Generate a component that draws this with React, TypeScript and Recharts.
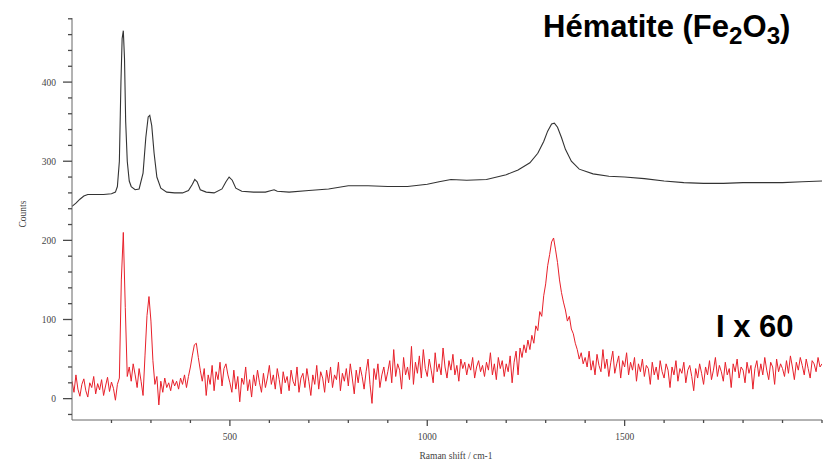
import { Line, LineChart, XAxis, YAxis } from "recharts";

// Raman spectrum of hematite: raw trace (black) and the x60 trace (red)
const blackShift = [
  100, 110, 120, 130, 140, 160, 180, 200, 210, 215, 220, 224, 227, 230, 233,
  236, 240, 245, 250, 260, 270, 280, 287, 293, 297, 302, 308, 315, 325, 340,
  360, 380, 395, 405, 411, 417, 425, 440, 460, 480, 490, 498, 506, 515, 530,
  560, 590, 605, 612, 620, 650, 700, 750, 800, 850, 900, 950, 1000, 1030,
  1060, 1100, 1150, 1200, 1230, 1260, 1280, 1295, 1305, 1315, 1322, 1330,
  1340, 1350, 1365, 1385, 1420, 1460, 1500, 1550, 1600, 1650, 1700, 1750,
  1800, 1850, 1900, 1950, 2000,
];
const blackCounts = [
  243, 247, 252, 256, 258, 258, 258, 259, 261, 268, 300, 400, 455, 465, 430,
  350, 300, 275, 268, 264, 265, 285, 330, 356, 358, 345, 310, 280, 266, 261,
  260, 260, 263, 271, 277, 274, 264, 261, 260, 265, 274, 280, 276, 266, 262,
  261, 261, 263, 264, 262, 261, 263, 265, 269, 269, 268, 268, 271, 274,
  277, 276, 277, 283, 289, 298, 310, 325, 338, 347, 348, 343,
  330, 315, 300, 290, 284, 281, 280, 278, 275, 273, 272, 272,
  273, 273, 273, 274, 275,
];

const redShift = [
  100, 105, 110, 115, 120, 125, 130, 135, 140, 145,
  150, 155, 160, 165, 170, 175, 180, 185, 190, 195,
  200, 205, 210, 215, 220, 225, 230, 235, 240, 245,
  250, 255, 260, 265, 270, 275, 280, 285, 290, 295,
  300, 305, 310, 315, 320, 325, 330, 335, 340, 345,
  350, 355, 360, 365, 370, 375, 380, 385, 390, 395,
  400, 405, 410, 415, 420, 425, 430, 435, 440, 445,
  450, 455, 460, 465, 470, 475, 480, 485, 490, 495,
  500, 505, 510, 515, 520, 525, 530, 535, 540, 545,
  550, 555, 560, 565, 570, 575, 580, 585, 590, 595,
  600, 605, 610, 615, 620, 625, 630, 635, 640, 645,
  650, 655, 660, 665, 670, 675, 680, 685, 690, 695,
  700, 705, 710, 715, 720, 725, 730, 735, 740, 745,
  750, 755, 760, 765, 770, 775, 780, 785, 790, 795,
  800, 805, 810, 815, 820, 825, 830, 835, 840, 845,
  850, 855, 860, 865, 870, 875, 880, 885, 890, 895,
  900, 905, 910, 915, 920, 925, 930, 935, 940, 945,
  950, 955, 960, 965, 970, 975, 980, 985, 990, 995,
  1000, 1005, 1010, 1015, 1020, 1025, 1030, 1035, 1040, 1045,
  1050, 1055, 1060, 1065, 1070, 1075, 1080, 1085, 1090, 1095,
  1100, 1105, 1110, 1115, 1120, 1125, 1130, 1135, 1140, 1145,
  1150, 1155, 1160, 1165, 1170, 1175, 1180, 1185, 1190, 1195,
  1200, 1205, 1210, 1215, 1220, 1225, 1230, 1235, 1240, 1245,
  1250, 1255, 1260, 1265, 1270, 1275, 1280, 1285, 1290, 1295,
  1300, 1305, 1310, 1315, 1320, 1325, 1330, 1335, 1340, 1345,
  1350, 1355, 1360, 1365, 1370, 1375, 1380, 1385, 1390, 1395,
  1400, 1405, 1410, 1415, 1420, 1425, 1430, 1435, 1440, 1445,
  1450, 1455, 1460, 1465, 1470, 1475, 1480, 1485, 1490, 1495,
  1500, 1505, 1510, 1515, 1520, 1525, 1530, 1535, 1540, 1545,
  1550, 1555, 1560, 1565, 1570, 1575, 1580, 1585, 1590, 1595,
  1600, 1605, 1610, 1615, 1620, 1625, 1630, 1635, 1640, 1645,
  1650, 1655, 1660, 1665, 1670, 1675, 1680, 1685, 1690, 1695,
  1700, 1705, 1710, 1715, 1720, 1725, 1730, 1735, 1740, 1745,
  1750, 1755, 1760, 1765, 1770, 1775, 1780, 1785, 1790, 1795,
  1800, 1805, 1810, 1815, 1820, 1825, 1830, 1835, 1840, 1845,
  1850, 1855, 1860, 1865, 1870, 1875, 1880, 1885, 1890, 1895,
  1900, 1905, 1910, 1915, 1920, 1925, 1930, 1935, 1940, 1945,
  1950, 1955, 1960, 1965, 1970, 1975, 1980, 1985, 1990, 1995,
  2000,
];
const redCounts = [
  22, 8, 30, 12, 3, 18, 25, 10, 2, 20,
  14, 28, 6, 19, 11, 24, 4, 16, 27, 9,
  21, 13, -2, 18, 26, 150, 210, 115, 28, 40,
  22, 44, 30, 14, 38, 22, 4, 55, 105, 129,
  98, 48, 18, 28, -8, 22, 8, 26, 14, 20,
  10, 24, 16, 22, 12, 26, 18, 30, 14, 28,
  40, 55, 68, 70, 52, 36, 22, 38, 4, 30,
  18, 42, 10, 34, 24, 46, 16, 38, 44, 30,
  20, 8, 36, 12, 28, -4, 26, 18, 40, 10,
  24, 2, 30, 16, 36, 20, 8, 32, 14, 26,
  42, 18, 30, 12, 38, 24, 6, 34, 20, 28,
  10, 36, 22, 16, 40, 8, 26, 32, 14, 38,
  22, 4, 30, 18, 42, 12, 34, 26, 8, 36,
  20, 40, 14, 30, 24, 46, 10, 32, 22, 38,
  16, 44, 26, 6, 36, 20, 40, 28, 12, 34,
  50, 18, -6, 38, 24, 44, 14, 30, 40, 22,
  34, 48, 20, 62, 28, 44, 36, 12, 52, 30,
  40, 24, 66, 18, 46, 32, 54, 26, 62, 38,
  28, 50, 36, 20, 58, 34, 44, 30, 64, 40,
  26, 48, 36, 56, 30, 42, 22, 50, 38, 46,
  30, 44, 36, 52, 26, 40, 48, 34, 42, 28,
  46, 36, 58, 30, 44, 24, 52, 38, 48, 28,
  44, 34, 54, 20, 46, 60, 30, 64, 52, 68,
  58, 74, 62, 80, 70, 92, 86, 110, 104, 130,
  145, 168, 182, 198, 203, 188, 172, 150, 134, 122,
  112, 98, 104, 88, 82, 70, 62, 50, 58, 44,
  52, 40, 60, 36, 48, 30, 56, 42, 34, 62,
  38, 50, 28, 46, 60, 32, 44, 54, 26, 48,
  40, 58, 30, 46, 36, 52, 22, 44, 34, 50,
  28, 42, 38, 18, 46, 30, 40, 24, 48, 34,
  26, 44, 36, 14, 40, 30, 48, 22, 38, 32,
  46, 20, 36, 42, 28, 10, 38, 26, 44, 32,
  18, 40, 30, 48, 24, 36, 52, 28, 42, 34,
  22, 46, 30, 38, 14, 44, 34, 50, 26, 40,
  36, 20, 46, 32, 42, 12, 38, 48, 28, 44,
  30, 52, 36, 24, 46, 40, 18, 50, 34, 44,
  38, 28, 48, 32, 54, 40, 24, 46, 36, 52,
  42, 30, 50, 38, 26, 48, 44, 34, 52, 40,
  44,
];

// axis ticks: minor marks plus the labelled ones
const xTicks = [
  200, 300, 400, 500, 600, 700, 800, 900, 1000, 1100, 1200, 1300, 1400, 1500,
  1600, 1700, 1800, 1900, 2000,
];
const xLabels = [500, 1000, 1500];
const yTicks = [
  -20, 0, 20, 40, 60, 80, 100, 120, 140, 160, 180, 200, 220, 240, 260, 280,
  300, 320, 340, 360, 380, 400, 420, 440, 460, 480,
];
const yLabels = [0, 100, 200, 300, 400];

const blackData = blackShift.map((shift, i) => ({ shift, counts: blackCounts[i] }));
const redData = redShift.map((shift, i) => ({ shift, counts: redCounts[i] }));

const axisColor = "#666";
const tickColor = "#4a4a4a";
const tickFont = { fontFamily: "Liberation Serif", fontSize: 9.5, fill: "#444" };

// tickSize/tickMargin are 0, so x,y here sit right on the axis line
const XTick = ({ x, y, payload }: any) => {
  const major = xLabels.includes(payload.value);
  return (
    <g>
      <line
        x1={x}
        x2={x}
        y1={y}
        y2={y + (major ? 6 : 3)}
        stroke={tickColor}
        strokeWidth={1.3}
      />
      {major && (
        <text x={x} y={y + 20} textAnchor="middle" {...tickFont}>
          {payload.value}
        </text>
      )}
    </g>
  );
};

const YTick = ({ x, y, payload }: any) => {
  const major = yLabels.includes(payload.value);
  return (
    <g>
      <line
        x1={x - (major ? 9 : 4)}
        x2={x}
        y1={y}
        y2={y}
        stroke={tickColor}
        strokeWidth={1.3}
      />
      {major && (
        <text x={x - 16} y={y + 3.5} textAnchor="end" {...tickFont}>
          {payload.value}
        </text>
      )}
    </g>
  );
};

const bigText = {
  position: "absolute" as const,
  fontFamily: "Liberation Sans, Arial, sans-serif",
  fontWeight: 700,
  fontSize: 31,
  lineHeight: 1,
  color: "#000",
  whiteSpace: "nowrap" as const,
};
const sub = { fontSize: "0.78em", verticalAlign: "-7px" };

export default function App() {
  return (
    <div
      style={{
        position: "absolute",
        left: 0,
        top: 0,
        width: 825,
        height: 463,
        background: "#fff",
      }}
    >
      <LineChart
        width={825}
        height={463}
        margin={{ top: 18, right: 3, bottom: 13, left: 0 }}
      >
        <XAxis
          type="number"
          dataKey="shift"
          domain={[100, 2000]}
          ticks={xTicks}
          interval={0}
          allowDataOverflow
          height={30}
          stroke={axisColor}
          tickSize={0}
          tickMargin={0}
          tickLine={false}
          tick={<XTick />}
          label={{
            value: "Raman shift / cm-1",
            position: "bottom",
            offset: 2,
            dx: 9,
            style: { ...tickFont, textAnchor: "middle" },
          }}
        />
        <YAxis
          type="number"
          dataKey="counts"
          domain={[-27, 481]}
          ticks={yTicks}
          interval={0}
          allowDataOverflow
          width={72}
          stroke={axisColor}
          tickSize={0}
          tickMargin={0}
          tickLine={false}
          tick={<YTick />}
          label={{
            value: "Counts",
            angle: -90,
            position: "insideLeft",
            offset: 23,
            dy: -5,
            style: { ...tickFont, textAnchor: "middle" },
          }}
        />
        <Line
          data={blackData}
          dataKey="counts"
          type="linear"
          stroke="#333"
          strokeWidth={1.1}
          dot={false}
          isAnimationActive={false}
        />
        <Line
          data={redData}
          dataKey="counts"
          type="linear"
          stroke="#e8202a"
          strokeWidth={1}
          dot={false}
          isAnimationActive={false}
        />
      </LineChart>
      <div style={{ ...bigText, left: 543, top: 10.5 }}>
        Hématite (Fe<span style={sub}>2</span>O<span style={sub}>3</span>)
      </div>
      <div style={{ ...bigText, left: 716, top: 311 }}>I x 60</div>
    </div>
  );
}
